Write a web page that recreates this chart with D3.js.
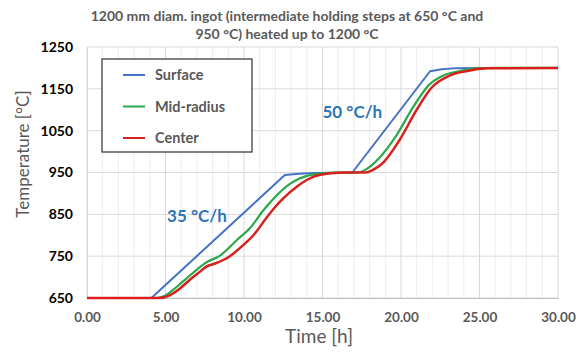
<!DOCTYPE html>
<html><head><meta charset="utf-8">
<script src="https://cdn.jsdelivr.net/npm/d3@7"></script>
<style>
body{margin:0;background:#fff;}
svg{display:block;font-family:Lato,"Open Sans",sans-serif;}
</style></head>
<body><svg id="c" width="588" height="360"></svg>
<script>
const titleLines = ["1200 mm diam. ingot (intermediate holding steps at 650 °C and", "950 °C) heated up to 1200 °C"];
const xTicks = [0, 5, 10, 15, 20, 25, 30];
const yTicks = [650, 750, 850, 950, 1050, 1150, 1250];
const seriesNames = ["Surface", "Mid-radius", "Center"];
const seriesColors = ["#4472C4", "#2BA84A", "#D9201C"];

const surfaceTime = [0, 4.1, 12.6, 13.5, 14.5, 16.9, 21.85, 22.6, 23.5, 25, 30];
const surfaceTemp = [650, 650, 944, 947, 949, 950, 1192, 1197, 1199.5, 1200, 1200];

const midTime = [0, 4.4, 5.0, 5.5, 6.0, 6.5, 7.0, 7.6, 8.5, 9.5, 10.4, 11.2, 12.0, 12.9, 13.5, 14.0, 15.0, 16.0, 17.2, 17.8, 18.6, 19.7, 20.8, 21.8, 22.7, 23.7, 24.8, 26, 30];
const midTemp = [650, 650, 656, 670, 686, 702, 718, 735, 752, 787, 818, 858, 892, 922, 935, 942, 948, 950, 950, 958, 984, 1038, 1108, 1160, 1182, 1192, 1199, 1200, 1200];

const centerTime = [0, 4.6, 5.3, 5.9, 6.5, 7.2, 7.6, 8.2, 9.1, 10.0, 10.6, 11.4, 12.0, 12.5, 13.4, 14.0, 14.5, 15.5, 16.5, 17.7, 18.3, 18.9, 19.9, 21.0, 22.0, 22.9, 23.4, 24.4, 25.5, 30];
const centerTemp = [650, 650, 657, 672, 692, 713, 725, 733, 750, 778, 800, 840, 868, 888, 917, 932, 941, 948, 950, 950, 958, 975, 1027, 1100, 1155, 1178, 1186, 1194, 1199, 1200];

const annotations = [
  {text: "35 °C/h", t: 5.1, T: 832},
  {text: "50 °C/h", t: 15.0, T: 1080}
];

const svg = d3.select("#c");
const M = {l: 87, r: 558, t: 47, b: 298};
const x = d3.scaleLinear().domain([0, 30]).range([M.l, M.r]);
const y = d3.scaleLinear().domain([650, 1250]).range([M.b, M.t]);

// minor vertical grid
svg.append("g").selectAll("line").data(d3.range(0, 31, 1)).join("line")
  .attr("x1", d => x(d)).attr("x2", d => x(d)).attr("y1", M.t).attr("y2", M.b)
  .attr("stroke", d => d % 5 === 0 ? "#D9D9D9" : "#EDEDED").attr("stroke-width", 1);
// horizontal grid
svg.append("g").selectAll("line").data(yTicks).join("line")
  .attr("x1", M.l).attr("x2", M.r).attr("y1", d => y(d)).attr("y2", d => y(d))
  .attr("stroke", "#D9D9D9").attr("stroke-width", 1);

// axes
const xAxis = d3.axisBottom(x).tickValues(xTicks).tickFormat(d3.format(".2f")).tickSize(0).tickPadding(14);
const gx = svg.append("g").attr("transform", `translate(0,${M.b})`).call(xAxis);
gx.select(".domain").attr("stroke", "#BFBFBF");
gx.selectAll("text").attr("font-size", 13.5).attr("font-weight", "bold").attr("fill", "#595959").attr("font-family", "Lato");

const yAxis = d3.axisLeft(y).tickValues(yTicks).tickFormat(d3.format("d")).tickSize(0).tickPadding(14);
const gy = svg.append("g").attr("transform", `translate(${M.l},0)`).call(yAxis);
gy.select(".domain").attr("stroke", "#D9D9D9");
gy.selectAll("text").attr("font-size", 14).attr("font-weight", "bold").attr("fill", "#000").attr("font-family", "Lato");

// lines
const series = [
  {name: seriesNames[0], t: surfaceTime, v: surfaceTemp, color: seriesColors[0], w: 2, curve: d3.curveLinear},
  {name: seriesNames[1], t: midTime, v: midTemp, color: seriesColors[1], w: 2.2, curve: d3.curveMonotoneX},
  {name: seriesNames[2], t: centerTime, v: centerTemp, color: seriesColors[2], w: 2.5, curve: d3.curveMonotoneX}
];
series.forEach(s => {
  const line = d3.line().x((d, i) => x(s.t[i])).y(d => y(d)).curve(s.curve);
  svg.append("path").attr("d", line(s.v)).attr("fill", "none")
    .attr("stroke", s.color).attr("stroke-width", s.w).attr("stroke-linejoin", "round");
});

// title
svg.append("g").selectAll("text").data(titleLines).join("text")
  .attr("x", 287).attr("y", (d, i) => 21 + i * 17.5).attr("text-anchor", "middle")
  .attr("font-size", 14).attr("font-weight", "bold").attr("fill", "#595959").text(d => d);

// axis titles
svg.append("text").attr("x", 319).attr("y", 343).attr("text-anchor", "middle")
  .attr("font-size", 19).attr("fill", "#595959").text("Time [h]");
svg.append("text").attr("transform", "translate(29,154) rotate(-90)").attr("text-anchor", "middle")
  .attr("font-size", 17).attr("fill", "#595959").text("Temperature [°C]");

// annotations
svg.append("g").selectAll("text").data(annotations).join("text")
  .attr("x", d => x(d.t)).attr("y", d => y(d.T))
  .attr("font-size", 17).attr("font-weight", "bold").attr("fill", "#2E75B6").text(d => d.text);

// legend
const lg = svg.append("g");
lg.append("rect").attr("x", 102).attr("y", 59).attr("width", 150).attr("height", 93)
  .attr("fill", "#fff").attr("stroke", "#404040").attr("stroke-width", 1.3);
series.forEach((s, i) => {
  const cy = 75 + i * 31.5;
  lg.append("line").attr("x1", 123).attr("x2", 145).attr("y1", cy).attr("y2", cy)
    .attr("stroke", s.color).attr("stroke-width", 2);
  lg.append("text").attr("x", 155).attr("y", cy + 5).attr("font-size", 14.5)
    .attr("font-weight", "bold").attr("fill", "#595959").text(s.name);
});
</script></body></html>
